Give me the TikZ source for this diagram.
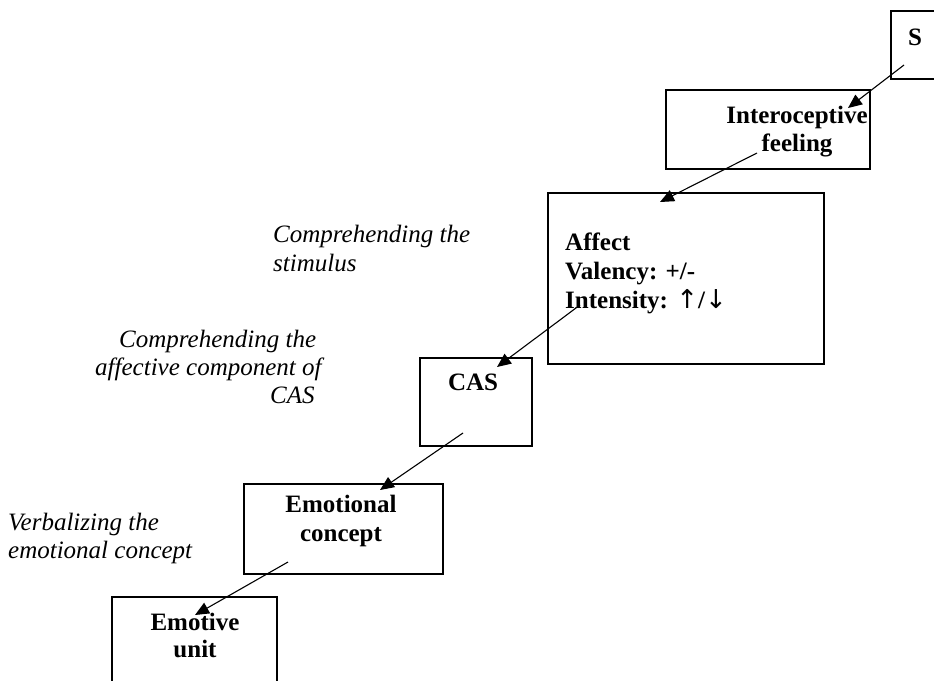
\documentclass[tikz,border=0pt]{standalone}
\usepackage{fontspec}
\setmainfont{Liberation Serif}
\newfontfamily\arrowfont{DejaVu Sans}
\usetikzlibrary{arrows.meta}
\begin{document}
\begin{tikzpicture}[x=1pt,y=-1pt,
  box/.style={draw, line width=1.2pt, rectangle, inner sep=0pt, outer sep=0pt, anchor=north west},
  lbl/.style={font=\fontsize{25}{29}\selectfont\bfseries, inner sep=0pt, anchor=base},
  lbll/.style={font=\fontsize{25}{29}\selectfont\bfseries, inner sep=0pt, anchor=base west},
  ital/.style={font=\fontsize{25}{29}\selectfont\itshape, inner sep=0pt, anchor=base west},
  conn/.style={-{Triangle[length=14pt,width=12pt]}, line width=1.1pt}]
\useasboundingbox (0,0) rectangle (934,680);
% boxes
\node[box, minimum width=60pt, minimum height=68pt] (sbox) at (891,11) {};
\node[box, minimum width=204pt, minimum height=79pt] (ibox) at (666,90) {};
\node[box, minimum width=276pt, minimum height=171pt] (abox) at (548,193) {};
\node[box, minimum width=112pt, minimum height=88pt] (cbox) at (420,358) {};
\node[box, minimum width=199pt, minimum height=90pt] (ebox) at (244,484) {};
\node[box, minimum width=165pt, minimum height=110pt] (ubox) at (112,597) {};
% box texts
\node[lbl] (st) at (915,45) {S};
\node[lbl] (it1) at (797,123) {Interoceptive};
\node[lbl] (it2) at (797,151) {feeling};
\node[lbll] (at1) at (565,250) {Affect};
\node[lbll] (at2) at (565,279) {Valency: +/-};
\node[lbll] (at3) at (565,308) {Intensity: {\arrowfont\mdseries\fontsize{26}{29}\selectfont ↑}/{\arrowfont\mdseries\fontsize{26}{29}\selectfont ↓}};
\node[lbl] (ct) at (473,390) {CAS};
\node[lbl] (et1) at (341,512) {Emotional};
\node[lbl] (et2) at (341,541) {concept};
\node[lbl] (ut1) at (195,630) {Emotive};
\node[lbl] (ut2) at (195,657) {unit};
% italic labels
\node[ital] (l11) at (273,242) {Comprehending the};
\node[ital] (l12) at (273,271) {stimulus};
\node[ital] (l21) at (119,347) {Comprehending the};
\node[ital] (l22) at (95,375) {affective component of};
\node[ital] (l23) at (270,403) {CAS};
\node[ital] (l31) at (8,530) {Verbalizing the};
\node[ital] (l32) at (8,558) {emotional concept};
% connectors
\coordinate (a1s) at (904,65);  \coordinate (a1e) at (848,108);
\coordinate (a2s) at (757,153); \coordinate (a2e) at (660,202);
\coordinate (a3s) at (580,305); \coordinate (a3e) at (497,367);
\coordinate (a4s) at (463,433); \coordinate (a4e) at (380,490);
\coordinate (a5s) at (288,562); \coordinate (a5e) at (195,615);
\draw[conn] (a1s) -- (a1e);
\draw[conn] (a2s) -- (a2e);
\draw[conn] (a3s) -- (a3e);
\draw[conn] (a4s) -- (a4e);
\draw[conn] (a5s) -- (a5e);
\end{tikzpicture}
\end{document}
